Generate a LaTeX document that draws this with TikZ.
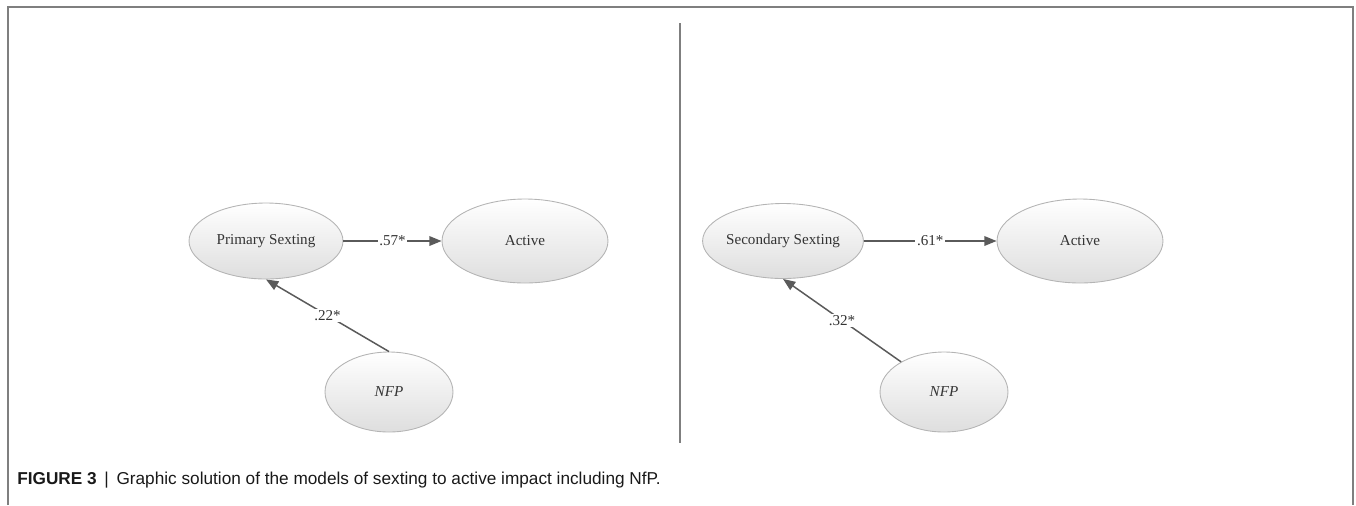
\documentclass[tikz,border=0pt]{standalone}
\usepackage{fontspec}
\setmainfont{Liberation Serif}
\newfontfamily\capfont{Liberation Sans}
\usetikzlibrary{shapes.geometric,arrows.meta}
\definecolor{framegray}{HTML}{7F7F7F}
\definecolor{pathgray}{HTML}{5A5A5A}
\definecolor{rimgray}{HTML}{B4B4B4}
\tikzset{
  var_n/.style = {ellipse, draw=rimgray, line width=0.5pt, top color=white, bottom color=black!13,
    inner sep=0pt, text=black!80, font=\fontsize{8.6}{10}\selectfont},
  var_s/.style = {var_n, minimum width=3.08cm, minimum height=1.52cm},
  var_a/.style = {var_n, minimum width=3.32cm, minimum height=1.68cm},
  var_x/.style = {var_n, minimum width=2.56cm, minimum height=1.6cm, font=\fontsize{8.6}{10}\selectfont\itshape},
  path_a/.style = {draw=pathgray, line width=0.85pt, -{Triangle[length=7pt,width=5.5pt]}},
  coef/.style = {fill=white, inner sep=1pt, text=black!80, font=\fontsize{8.6}{10}\selectfont}
}
\begin{document}
\begin{tikzpicture}[x=0.02cm,y=-0.02cm]
\useasboundingbox (0,0) rectangle (1356,505);
% frame and divider
\draw[framegray, line width=1pt] (8,505) -- (8,7) -- (1353,7) -- (1353,505);
\draw[framegray, line width=1pt] (680,23) -- (680,443);

% primary sexting model
\node [var_s] (ps) at (266,241) {Primary Sexting};
\node [var_a] (act1) at (525,241) {Active};
\node [var_x] (nfp1) at (389,392) {NFP};
\draw [path_a] (ps) -- node[coef] {.57*} (act1);
\draw [path_a] (nfp1.north) -- node[coef] {.22*} (ps.south);

% secondary sexting model
\node [var_s, minimum width=3.06cm, minimum height=1.5cm] (ss) at (783,241) {Secondary Sexting};
\node [var_a] (act2) at (1080,241) {Active};
\node [var_x] (nfp2) at (944,392) {NFP};
\draw [path_a] (ss) -- node[coef] {.61*} (act2);
\draw [path_a] (nfp2) -- node[coef] {.32*} (ss.south);

\node [anchor=base west, inner sep=0pt, font=\capfont\fontsize{9.8}{11}\selectfont, text=black!90] (cap) at (17,484)
  {\textbf{FIGURE 3} \,|\, Graphic solution of the models of sexting to active impact including NfP.};
\end{tikzpicture}
\end{document}
